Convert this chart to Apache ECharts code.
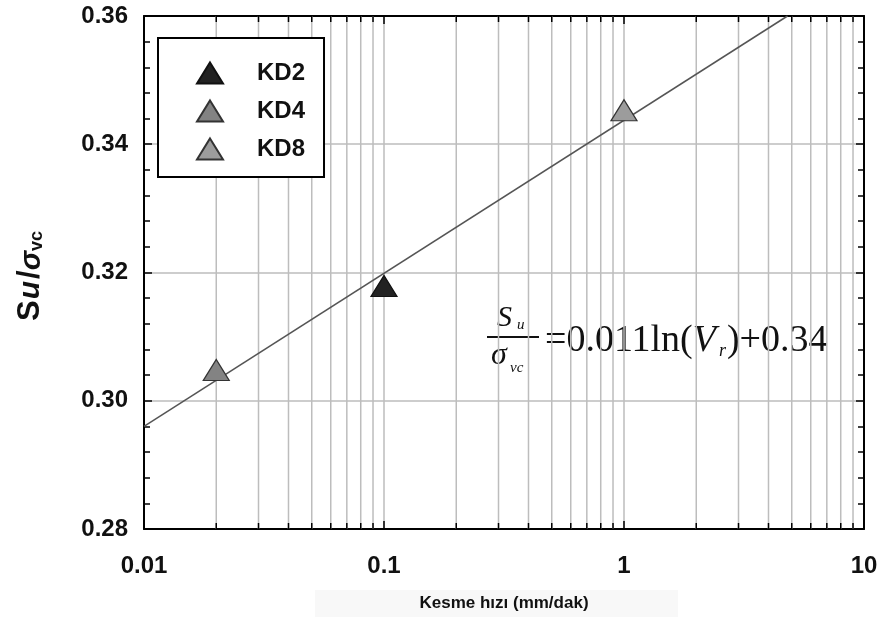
<!DOCTYPE html>
<html>
<head>
<meta charset="utf-8">
<script src="https://cdn.jsdelivr.net/npm/echarts@6/dist/echarts.min.js"></script>
<style>
  html, body { margin: 0; padding: 0; background: #fff; }
  #chart { width: 887px; height: 617px; }
</style>
</head>
<body>
<div id="chart"></div>
<script>
// Measured points per soil sample: [shear rate (mm/dak), Su/σvc]
const kd2Points = [[0.1, 0.3179]];
const kd4Points = [[0.02, 0.3048]];
const kd8Points = [[1, 0.3453]];

// Fitted trend line end points
const fitX = [0.01, 4.8];
const fitY = [0.296, 0.36];

// Axis ranges and tick labels
const xMin = 0.01, xMax = 10;
const xTickLabels = ['0.01', '0.1', '1', '10'];
const yMin = 0.28, yMax = 0.36, yStep = 0.02;
const yTickLabels = ['0.28', '0.30', '0.32', '0.34', '0.36'];

// Intermediate log-decade positions (2..9 in each decade)
const xMinorValues = [
  0.02, 0.03, 0.04, 0.05, 0.06, 0.07, 0.08, 0.09,
  0.2, 0.3, 0.4, 0.5, 0.6, 0.7, 0.8, 0.9,
  2, 3, 4, 5, 6, 7, 8, 9
];

const FONT = "'Liberation Sans', Arial, sans-serif";
const SERIF = "'Liberation Serif', 'Times New Roman', serif";
const GRID_COLOR = '#bdbdbd';

const chart = echarts.init(document.getElementById('chart'), null, { renderer: 'canvas' });

function logLabel(v) {
  return xTickLabels[Math.round(Math.log10(v)) + 2] || '';
}

const option = {
  backgroundColor: '#ffffff',
  animation: false,
  grid: { left: 144, right: 23, top: 16, bottom: 82, containLabel: false },
  xAxis: [
    {
      type: 'log', logBase: 10, min: xMin, max: xMax, position: 'bottom',
      axisLine: { show: true, onZero: false, lineStyle: { color: '#000', width: 2 } },
      axisTick: { show: true, inside: true, length: 8, lineStyle: { color: '#000', width: 1.5 } },
      axisLabel: {
        show: true, margin: 25, formatter: logLabel,
        fontFamily: FONT, fontWeight: 'bold', fontSize: 24, color: '#111'
      },
      splitLine: { show: true, lineStyle: { color: GRID_COLOR, width: 1.5 } },
      name: 'Kesme hızı (mm/dak)', nameLocation: 'middle', nameGap: 66,
      nameTextStyle: {
        fontFamily: "'Liberation Sans Narrow', 'Arial Narrow', " + FONT,
        fontWeight: 'bold', fontSize: 17, color: '#111'
      }
    },
    {
      type: 'log', logBase: 10, min: xMin, max: xMax, position: 'top',
      axisLine: { show: true, onZero: false, lineStyle: { color: '#000', width: 2 } },
      axisTick: { show: true, inside: true, length: 8, lineStyle: { color: '#000', width: 1.5 } },
      axisLabel: { show: false },
      splitLine: { show: false }
    }
  ],
  yAxis: [
    {
      type: 'value', min: yMin, max: yMax, interval: yStep, position: 'left',
      axisLine: { show: true, onZero: false, lineStyle: { color: '#000', width: 2 } },
      axisTick: { show: true, inside: true, length: 8, lineStyle: { color: '#000', width: 1.5 } },
      minorTick: { show: true, splitNumber: 5, length: 6, lineStyle: { color: '#000', width: 1.5 } },
      axisLabel: {
        margin: 16,
        formatter: v => yTickLabels[Math.round((v - yMin) / yStep)] || '',
        fontFamily: FONT, fontWeight: 'bold', fontSize: 24, color: '#111'
      },
      splitLine: { show: true, lineStyle: { color: GRID_COLOR, width: 1.5 } }
    },
    {
      type: 'value', min: yMin, max: yMax, interval: yStep, position: 'right',
      axisLine: { show: true, onZero: false, lineStyle: { color: '#000', width: 2 } },
      axisTick: { show: true, inside: true, length: 8, lineStyle: { color: '#000', width: 1.5 } },
      minorTick: { show: true, splitNumber: 5, length: 6, lineStyle: { color: '#000', width: 1.5 } },
      axisLabel: { show: false },
      splitLine: { show: false }
    }
  ],
  legend: {
    orient: 'vertical', left: 158, top: 38,
    padding: [23, 19, 16, 38], itemGap: 14,
    itemWidth: 26, itemHeight: 21,
    backgroundColor: '#fff', borderColor: '#000', borderWidth: 2,
    textStyle: {
      fontFamily: FONT, fontWeight: 'bold', fontSize: 24, color: '#111',
      padding: [0, 0, 0, 29]
    },
    data: ['KD2', 'KD4', 'KD8']
  },
  graphic: [
    // faint band behind the x-axis title
    { type: 'rect', z: -10, shape: { x: 315, y: 590, width: 363, height: 27 }, style: { fill: '#f8f8f8' } },
    // y-axis title, rotated
    {
      type: 'text', x: 28, y: 276, rotation: Math.PI / 2,
      style: {
        text: '{s|S}{u|u}{s|/}{g|σ}{v|vc}',
        align: 'center', verticalAlign: 'middle',
        rich: {
          s: { fontFamily: FONT, fontWeight: 'bold', fontSize: 31, fill: '#111', verticalAlign: 'bottom', lineHeight: 36 },
          u: { fontFamily: FONT, fontWeight: 'bold', fontStyle: 'italic', fontSize: 30, fill: '#111', verticalAlign: 'bottom', lineHeight: 32, padding: [0, 2, 0, 1] },
          g: { fontFamily: FONT, fontWeight: 'bold', fontStyle: 'italic', fontSize: 29, fill: '#111', verticalAlign: 'bottom', lineHeight: 36 },
          v: { fontFamily: FONT, fontWeight: 'bold', fontSize: 18, fill: '#111', verticalAlign: 'bottom', lineHeight: 28 }
        }
      }
    },
    // regression equation
    {
      type: 'group', x: 0, y: 0, z: 100,
      children: [
        { type: 'text', x: 497, y: 333, style: { text: 'S', fontFamily: SERIF, fontStyle: 'italic', fontSize: 30, fill: '#111', verticalAlign: 'bottom' } },
        { type: 'text', x: 517, y: 333, style: { text: 'u', fontFamily: SERIF, fontStyle: 'italic', fontSize: 15, fill: '#111', verticalAlign: 'bottom' } },
        { type: 'line', shape: { x1: 487, y1: 337, x2: 539, y2: 337 }, style: { stroke: '#111', lineWidth: 2 } },
        { type: 'text', x: 491, y: 372, style: { text: 'σ', fontFamily: SERIF, fontStyle: 'italic', fontSize: 32, fill: '#111', verticalAlign: 'bottom' } },
        { type: 'text', x: 510, y: 376, style: { text: 'vc', fontFamily: SERIF, fontStyle: 'italic', fontSize: 15, fill: '#111', verticalAlign: 'bottom' } },
        {
          type: 'text', x: 545, y: 339,
          style: {
            text: '{n|=0.011ln(}{i|V}{r|r}{n|)+0.34}',
            verticalAlign: 'middle',
            rich: {
              n: { fontFamily: SERIF, fontSize: 38, fill: '#111', verticalAlign: 'bottom', lineHeight: 42 },
              i: { fontFamily: SERIF, fontStyle: 'italic', fontSize: 38, fill: '#111', verticalAlign: 'bottom', lineHeight: 42 },
              r: { fontFamily: SERIF, fontStyle: 'italic', fontSize: 18, fill: '#111', verticalAlign: 'bottom', lineHeight: 42, padding: [0, 1, 0, 3] }
            }
          }
        }
      ]
    }
  ],
  series: [
    {
      // vertical grid lines and minor ticks at 2..9 of each decade
      type: 'custom', name: 'minorGrid', silent: true, z: 1,
      data: xMinorValues.map(v => [v]),
      renderItem: function (params, api) {
        const x = api.value(0);
        const p = api.coord([x, yMin]);
        const cs = params.coordSys;
        const top = cs.y, bottom = cs.y + cs.height;
        return {
          type: 'group',
          children: [
            { type: 'line', shape: { x1: p[0], y1: top, x2: p[0], y2: bottom }, style: { stroke: GRID_COLOR, lineWidth: 1.5 } },
            { type: 'line', shape: { x1: p[0], y1: bottom, x2: p[0], y2: bottom - 6 }, style: { stroke: '#000', lineWidth: 1.5 } },
            { type: 'line', shape: { x1: p[0], y1: top, x2: p[0], y2: top + 6 }, style: { stroke: '#000', lineWidth: 1.5 } }
          ]
        };
      }
    },
    {
      type: 'line', name: 'fit', z: 3, silent: true,
      data: fitX.map((x, i) => [x, fitY[i]]),
      showSymbol: false, symbol: 'none',
      lineStyle: { color: '#555', width: 1.5 }
    },
    {
      type: 'scatter', name: 'KD2', z: 5, data: kd2Points,
      symbol: 'triangle', symbolSize: [26, 21],
      itemStyle: { color: '#222', borderColor: '#111', borderWidth: 1.2, opacity: 1 }
    },
    {
      type: 'scatter', name: 'KD4', z: 5, data: kd4Points,
      symbol: 'triangle', symbolSize: [26, 21],
      itemStyle: { color: '#838383', borderColor: '#333', borderWidth: 1.2, opacity: 1 }
    },
    {
      type: 'scatter', name: 'KD8', z: 5, data: kd8Points,
      symbol: 'triangle', symbolSize: [26, 21],
      itemStyle: { color: '#9c9c9c', borderColor: '#333', borderWidth: 1.2, opacity: 1 }
    }
  ]
};

chart.setOption(option);
</script>
</body>
</html>
